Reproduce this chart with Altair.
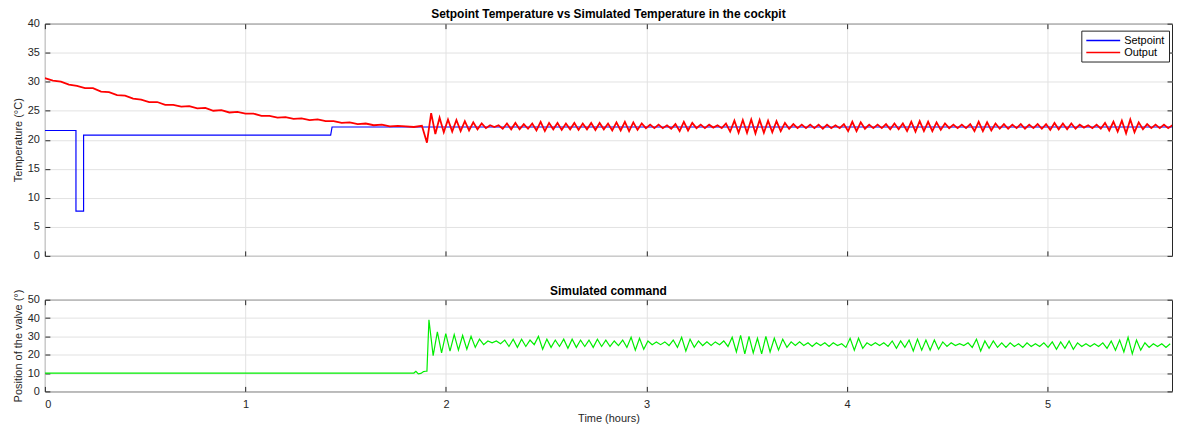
import altair as alt
import pandas as pd

FONT = "Liberation Sans"

# ---------------- data ----------------
# Setpoint temperature (step signal)
SP_T = [0.0, 0.155, 0.155, 0.193, 0.193, 1.425, 1.432, 5.62]
SP_V = [21.6, 21.6, 7.7, 7.7, 20.8, 20.8, 22.2, 22.2]

# Output temperature, slow decay part (sampled every 0.04 h from 0)
OUT_PRE_STEP = 0.04
OUT_PRE_V = [30.6, 30.2, 30.0, 29.5, 29.3, 28.9, 28.9, 28.3, 28.2, 27.7,
             27.6, 27.1, 26.9, 26.5, 26.5, 26.0, 26.0, 25.7, 25.8, 25.4,
             25.5, 25.0, 25.1, 24.7, 24.8, 24.5, 24.5, 24.1, 24.1, 23.8,
             23.9, 23.6, 23.7, 23.4, 23.5, 23.2, 23.2, 22.9, 23.0, 22.7,
             22.8, 22.5, 22.6, 22.3, 22.4, 22.3, 22.2, 22.4]

# Output temperature, oscillating part (troughs / peaks every half period)
OUT_OSC_START = 1.905
OUT_OSC_STEP = 0.021
OUT_OSC_V = [19.5, 24.6, 21.0, 23.8, 21.3, 23.5, 21.4, 23.4, 21.5, 23.2,
             21.6, 23.0, 21.8, 22.8, 22.0, 22.5, 22.2, 22.5, 21.9, 22.8,
             21.8, 22.9, 21.8, 22.7, 21.9, 22.8, 21.6, 23.1, 21.5, 22.9,
             21.8, 22.9, 21.7, 22.8, 21.8, 22.9, 21.7, 22.8, 21.8, 22.9,
             21.7, 22.9, 21.8, 22.8, 21.6, 23.0, 21.6, 23.1, 21.5, 23.0,
             21.7, 22.8, 22.0, 22.6, 22.0, 22.6, 22.0, 22.5, 21.9, 22.7,
             21.5, 23.1, 21.6, 22.9, 22.0, 22.6, 22.0, 22.6, 22.1, 22.5,
             22.0, 22.8, 21.4, 23.3, 21.2, 23.4, 21.2, 23.5, 21.1, 23.4,
             21.2, 23.3, 21.3, 23.2, 21.5, 22.9, 21.9, 22.7, 22.0, 22.6,
             22.0, 22.6, 22.0, 22.6, 21.9, 22.6, 22.0, 22.5, 22.0, 22.7,
             21.5, 23.1, 21.5, 23.0, 21.9, 22.6, 22.0, 22.6, 22.0, 22.7,
             21.8, 22.8, 21.8, 22.8, 21.5, 23.1, 21.4, 23.2, 21.5, 23.1,
             21.5, 23.0, 21.7, 22.8, 22.0, 22.6, 22.0, 22.6, 22.0, 22.7,
             21.5, 23.1, 21.5, 23.0, 21.6, 22.8, 21.9, 22.7, 21.9, 22.6,
             22.0, 22.7, 21.9, 22.6, 22.0, 22.7, 21.9, 22.7, 21.7, 22.9,
             21.8, 22.8, 21.8, 22.8, 21.9, 22.6, 22.1, 22.5, 22.0, 22.6,
             21.9, 22.9, 21.6, 23.1, 21.4, 23.3, 21.1, 23.5, 21.3, 23.0,
             21.8, 22.7, 22.0, 22.6, 22.0, 22.6, 22.0, 22.5]

# Valve command, flat part
CMD_PRE_T = [0.0, 1.84, 1.85, 1.862, 1.875, 1.888, 1.898, 1.905]
CMD_PRE_V = [10, 10, 11, 9.6, 9.8, 10.8, 11, 11]

# Valve command, oscillating part (peaks / troughs every half period)
CMD_OSC_START = 1.915
CMD_OSC_STEP = 0.021
CMD_OSC_V = [39, 19.5, 32.5, 21, 31.5, 22, 31, 22.5, 30.5, 23,
             30, 24, 28.5, 25.5, 27.5, 26.5, 27.5, 26, 28, 24.5,
             28.5, 24, 28.5, 24.5, 28, 25.5, 30, 23, 28.5, 24,
             28, 24.5, 28.5, 23.5, 28.5, 24, 28, 24.5, 28, 24,
             28.5, 24.5, 28, 24.5, 27.5, 25, 28, 24, 29.5, 22.5,
             29, 23, 27.5, 25.5, 27, 25.5, 27, 25, 28, 24,
             29.5, 22, 28.5, 24, 27.5, 25, 27, 25, 27, 25.5,
             27.5, 24.5, 29.5, 21.5, 30.5, 20.5, 30, 21, 29, 20.5,
             30, 21.5, 29, 22.5, 28.5, 24, 27, 25, 27, 25,
             26.5, 24.5, 26.5, 25, 26.5, 24.5, 26.5, 25, 26, 24,
             29, 22.5, 29, 23.5, 26.5, 25, 26.5, 25, 26.5, 24.5,
             27.5, 23.5, 27.5, 24, 28, 22, 28.5, 22.5, 28, 22.5,
             28, 23, 27, 24.5, 26.5, 25, 26, 25, 26.5, 24,
             28.5, 22, 27.5, 23.5, 27.5, 24, 26.5, 24, 26.5, 24.5,
             26, 24, 26.5, 24.5, 26, 24.5, 26.5, 24, 27, 23,
             27, 23.5, 27.5, 23, 26.5, 24.5, 26, 24.5, 26, 24.5,
             26.5, 23.5, 27.5, 22.5, 28, 21.5, 29.5, 20.5, 28, 22.5,
             26.5, 24, 26, 24.5, 26, 24, 26]

X_TICKS = [0, 1, 2, 3, 4, 5]
Y_TICKS_TOP = [0, 5, 10, 15, 20, 25, 30, 35, 40]
Y_TICKS_BOT = [0, 10, 20, 30, 40, 50]
SERIES = ["Setpoint", "Output"]
COLORS = ["#0000ff", "#ff0000"]

# ---------------- tables ----------------
sp = pd.DataFrame({"t": SP_T, "v": SP_V, "series": "Setpoint"})
sp["o"] = range(len(sp))

out_t = [round(i * OUT_PRE_STEP, 3) for i in range(len(OUT_PRE_V))] + \
        [round(OUT_OSC_START + i * OUT_OSC_STEP, 4) for i in range(len(OUT_OSC_V))]
out = pd.DataFrame({"t": out_t, "v": OUT_PRE_V + OUT_OSC_V, "series": "Output"})
out["o"] = range(len(out))

cmd_t = CMD_PRE_T + [round(CMD_OSC_START + i * CMD_OSC_STEP, 4) for i in range(len(CMD_OSC_V))]
cmd = pd.DataFrame({"t": cmd_t, "v": CMD_PRE_V + CMD_OSC_V})
cmd["o"] = range(len(cmd))

# ---------------- scales / axes ----------------
xscale = alt.Scale(domain=[0, 5.62], nice=False, zero=False)
yscale_top = alt.Scale(domain=[0, 40], nice=False)
yscale_bot = alt.Scale(domain=[0, 50], nice=False)
GRID = "#e2e2e2"
TICK = "#262626"


def x_main(labels, title):
    kw = dict(values=X_TICKS, grid=True, gridColor=GRID, domain=False,
              tickSize=5, tickColor=TICK, offset=-5, labels=labels,
              labelPadding=7, format="d", minExtent=0)
    if title:
        kw["title"] = title
        kw["titlePadding"] = 3
    else:
        kw["title"] = None
    return alt.Axis(**kw)


def y_main(values, title):
    return alt.Axis(values=values, grid=True, gridColor=GRID, domain=False,
                    tickSize=5, tickColor=TICK, offset=-5, labelPadding=5.5,
                    title=title, titlePadding=4, format="d", minExtent=0)


x_top = alt.Axis(orient="top", values=X_TICKS, grid=False, domain=False,
                 tickSize=5, tickColor=TICK, offset=-5, labels=False, title=None,
                 minExtent=0, maxExtent=0)


def y_right(values):
    return alt.Axis(orient="right", values=values, grid=False, domain=False,
                    tickSize=5, tickColor=TICK, offset=-5, labels=False, title=None,
                    minExtent=0, maxExtent=0)


legend = alt.Legend(orient="none", legendX=1040, legendY=7, title=None,
                    symbolType="M-1,0H5.8", symbolSize=100, symbolStrokeWidth=1.5,
                    labelFont=FONT, labelFontSize=11, labelColor="#000000",
                    strokeColor="#262626", fillColor="white", padding=4,
                    rowPadding=1, labelOffset=27)
color_scale = alt.Scale(domain=SERIES, range=COLORS)

# ---------------- top panel ----------------
blue = alt.Chart(sp).mark_line(strokeWidth=1.2, clip=True).encode(
    x=alt.X("t:Q", scale=xscale, axis=x_main(False, None)),
    y=alt.Y("v:Q", scale=yscale_top, axis=y_main(Y_TICKS_TOP, "Temperature (°C)")),
    color=alt.Color("series:N", scale=color_scale, legend=legend),
    order="o:Q",
)
red = alt.Chart(out).mark_line(strokeWidth=1.8, clip=True).encode(
    x=alt.X("t:Q", scale=xscale, axis=x_top),
    y=alt.Y("v:Q", scale=yscale_top, axis=y_right(Y_TICKS_TOP)),
    color=alt.Color("series:N", scale=color_scale, legend=legend),
    order="o:Q",
)
top = alt.layer(blue, red).resolve_axis(x="independent", y="independent").properties(
    width=1131, height=233,
    title=alt.TitleParams("Setpoint Temperature vs Simulated Temperature in the cockpit",
                          font=FONT, fontSize=12, fontWeight="bold", color="#000000",
                          anchor="middle", frame="group", offset=-3),
)

# ---------------- bottom panel ----------------
green = alt.Chart(cmd).mark_line(strokeWidth=1.2, color="#00ee00", clip=True).encode(
    x=alt.X("t:Q", scale=xscale, axis=x_main(True, "Time (hours)")),
    y=alt.Y("v:Q", scale=yscale_bot, axis=y_main(Y_TICKS_BOT, "Position of the valve (°)")),
    order="o:Q",
)
green_frame = alt.Chart(cmd).mark_line(strokeOpacity=0, clip=True).encode(
    x=alt.X("t:Q", scale=xscale, axis=x_top),
    y=alt.Y("v:Q", scale=yscale_bot, axis=y_right(Y_TICKS_BOT)),
    order="o:Q",
)
bottom = alt.layer(green, green_frame).resolve_axis(x="independent", y="independent").properties(
    width=1131, height=92,
    title=alt.TitleParams("Simulated command", font=FONT, fontSize=12,
                          fontWeight="bold", color="#000000",
                          anchor="middle", frame="group", offset=-9),
)

chart = alt.vconcat(top, bottom, spacing=22).properties(
    padding={"left": 3, "top": -2, "right": 0, "bottom": 0},
).configure_axis(
    labelFont=FONT, titleFont=FONT, labelFontSize=11, titleFontSize=11,
    labelColor="#262626", titleColor="#262626", titleFontWeight="normal",
).configure_view(stroke="#262626", strokeWidth=1)

chart.save("out.html", embed_options={"renderer": "svg", "actions": False})
